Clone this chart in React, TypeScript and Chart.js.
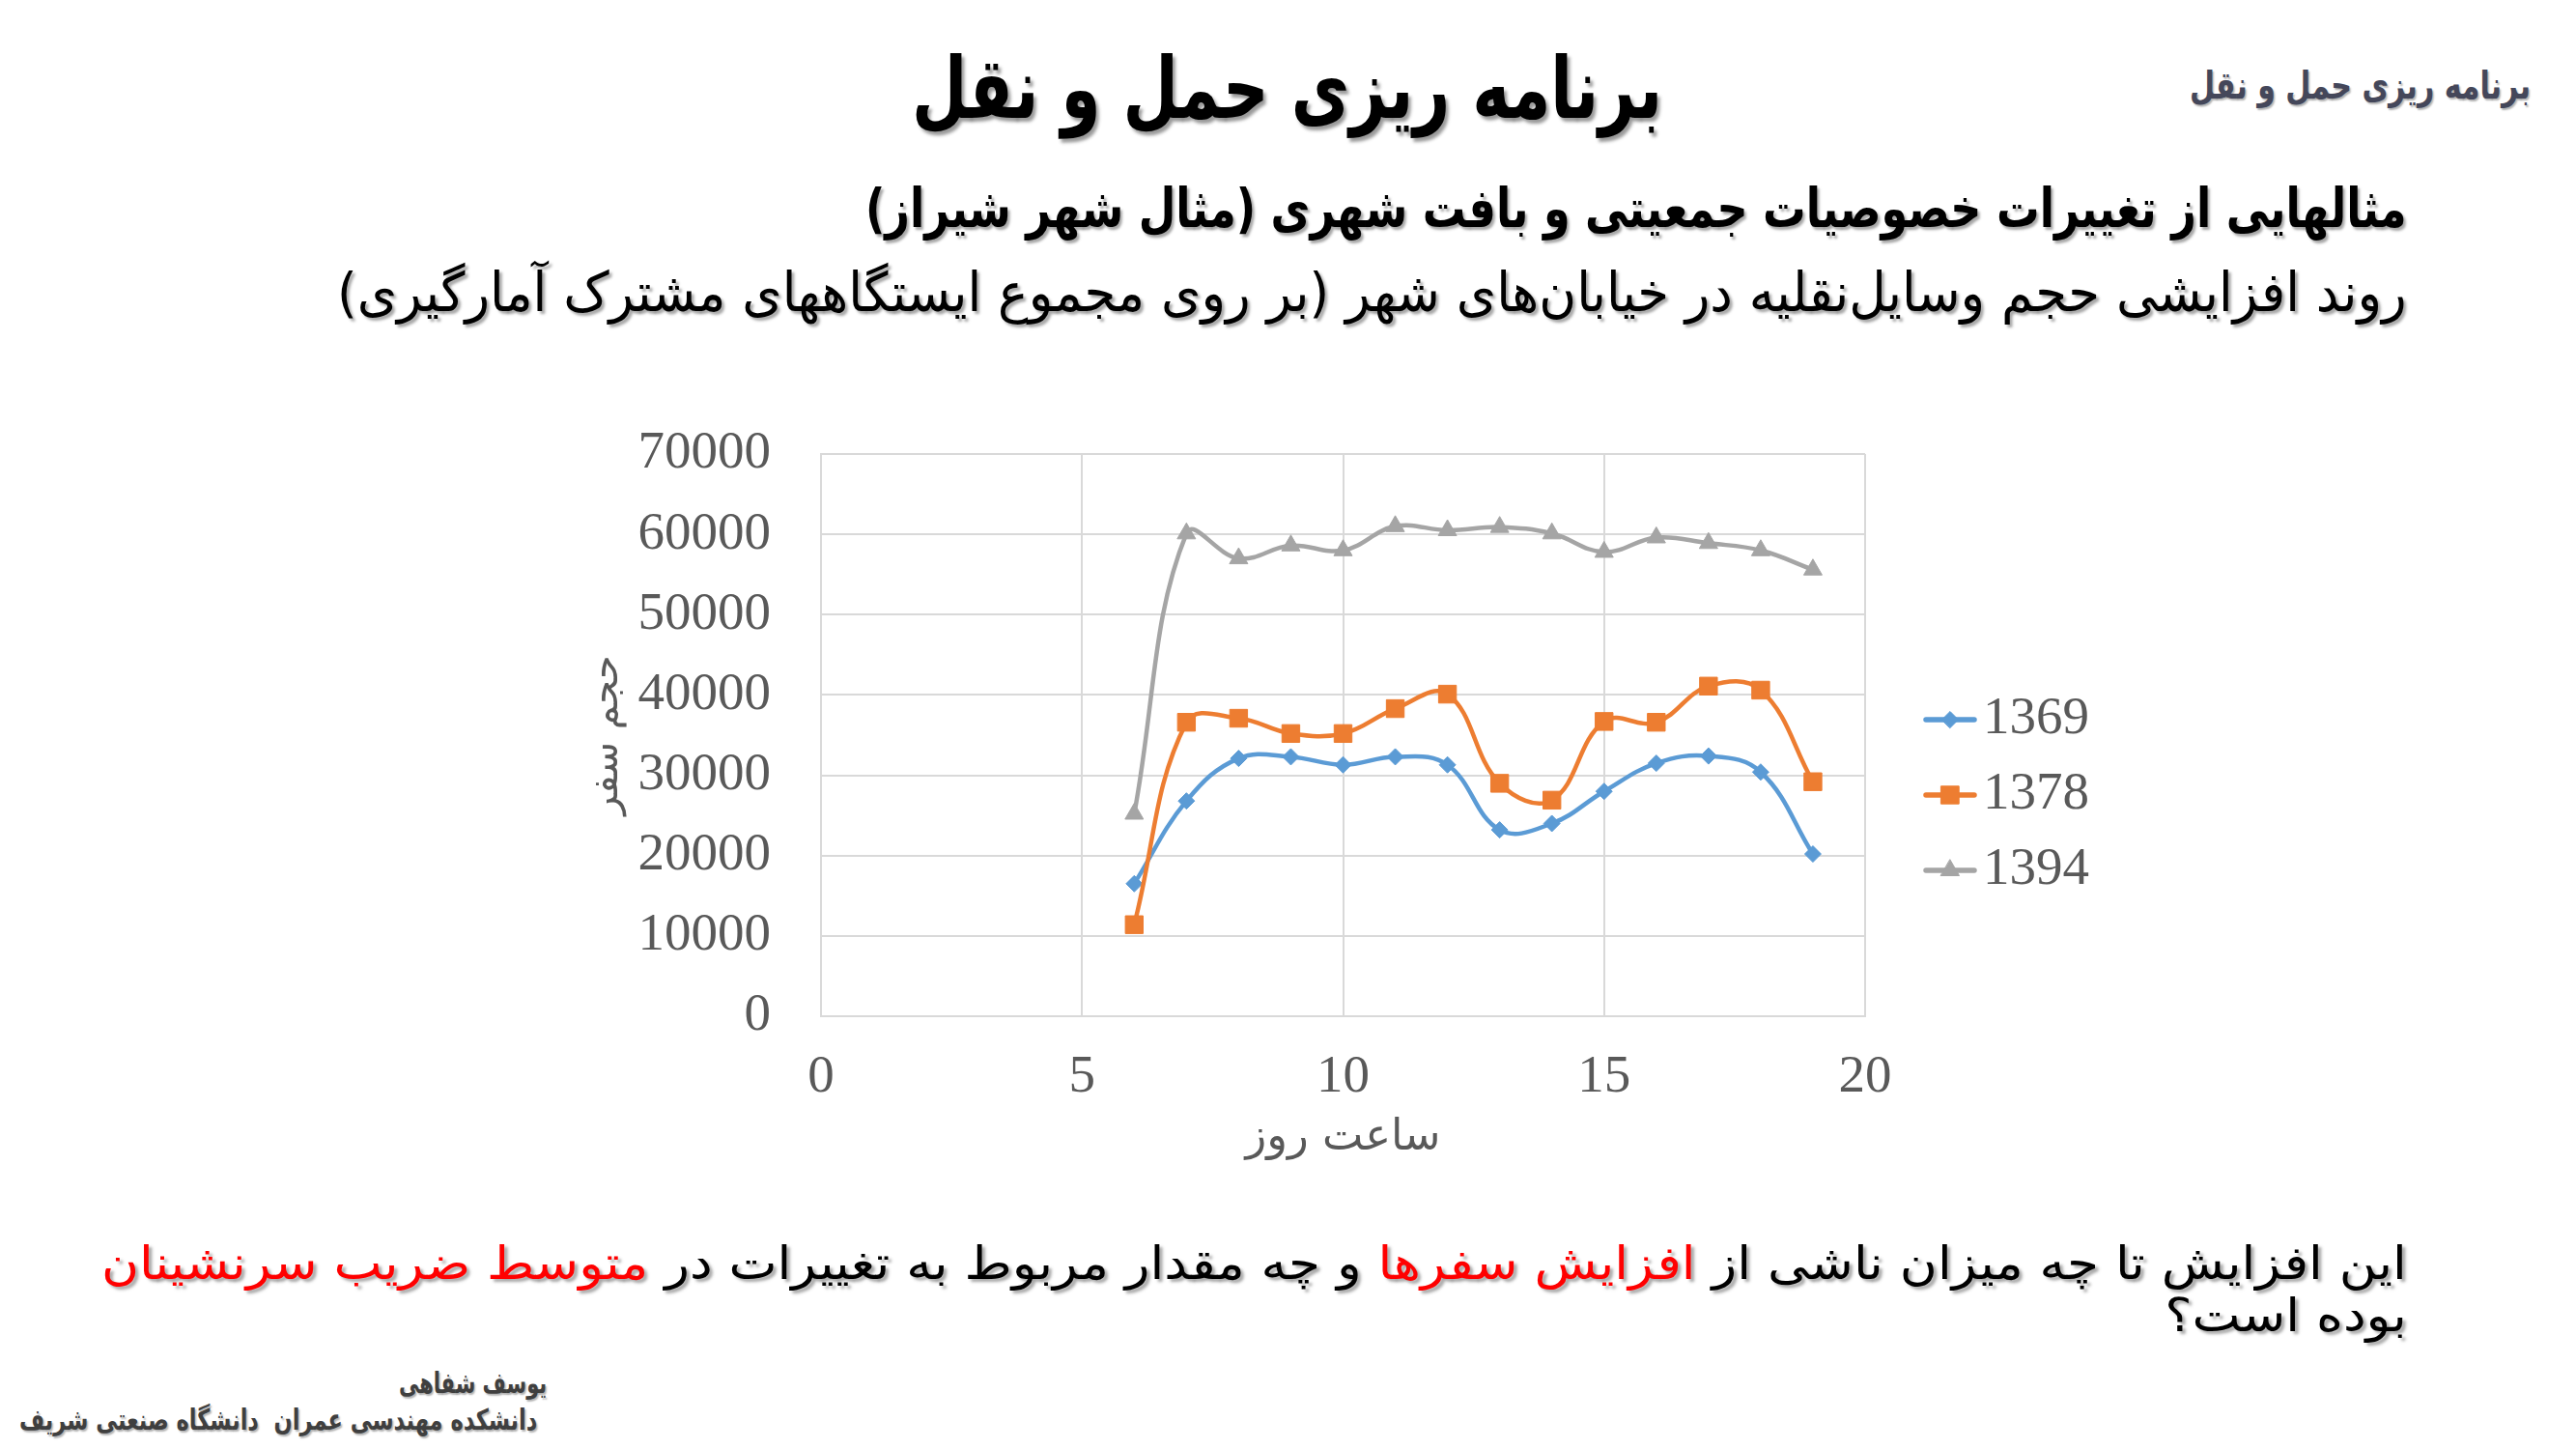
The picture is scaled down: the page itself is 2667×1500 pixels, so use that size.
import React, { useEffect, useLayoutEffect, useRef, useState } from 'react';
import { Chart, registerables } from 'chart.js';
import { drawPoint } from 'chart.js/helpers';

Chart.register(...registerables);

// ---------- data ----------
const hours = [6, 7, 8, 9, 10, 11, 12, 13, 14, 15, 16, 17, 18, 19];
const seriesNames = ['1369', '1378', '1394'];
const values1369 = [16500, 26800, 32100, 32300, 31300, 32300, 31300, 23200, 24000, 28000, 31500, 32400, 30400, 20200];
const values1378 = [11400, 36600, 37100, 35200, 35200, 38300, 40100, 29000, 26900, 36700, 36600, 41100, 40600, 29200];
const values1394 = [25200, 60100, 57000, 58600, 58000, 61000, 60500, 60900, 60100, 57800, 59600, 58900, 58000, 55600];
const xTickStep = 5;
const yTickStep = 10000;
const xRange = [0, 20];
const yRange = [0, 70000];
const xAxisTitle = 'ساعت روز';
const yAxisTitle = 'حجم سفر';

const seriesValues = [values1369, values1378, values1394];
const seriesColors = ['#5B9BD5', '#ED7D31', '#A5A5A5'];
const seriesPointStyles = ['rectRot', 'rect', 'triangle'];
const seriesPointRadii = [8.5, 13, 11];

const AXIS_GRAY = '#595959';
const GRID = '#d9d9d9';
const SERIF = "'Liberation Serif', 'Times New Roman', serif";
const PERSIAN = "'DejaVu Sans', sans-serif";

function makeLegendIcon(color: string, style: string, radius: number) {
  const c = document.createElement('canvas');
  c.width = 56;
  c.height = 30;
  const g = c.getContext('2d')!;
  g.strokeStyle = color;
  g.lineWidth = 5.5;
  g.lineCap = 'round';
  g.beginPath();
  g.moveTo(3, 15);
  g.lineTo(53, 15);
  g.stroke();
  g.fillStyle = color;
  g.lineWidth = 1;
  drawPoint(g, { pointStyle: style, radius, borderWidth: 1, rotation: 0 } as any, 28, 15);
  return c;
}

function TrafficChart() {
  const ref = useRef<HTMLCanvasElement>(null);
  useEffect(() => {
    const canvas = ref.current!;
    const icons = seriesNames.map((_, i) =>
      makeLegendIcon(seriesColors[i], seriesPointStyles[i], seriesPointRadii[i])
    );
    const datasets = seriesNames.map((name, i) => ({
      label: name,
      data: hours.map((h, j) => ({ x: h, y: seriesValues[i][j] })),
      borderColor: seriesColors[i],
      backgroundColor: seriesColors[i],
      pointBackgroundColor: seriesColors[i],
      pointBorderColor: seriesColors[i],
      pointBorderWidth: 1,
      pointStyle: seriesPointStyles[i] as any,
      pointRadius: seriesPointRadii[i],
      borderWidth: 4.5,
      borderCapStyle: 'round' as const,
      tension: 0.4,
      order: seriesNames.length - 1 - i,
    }));
    const tickFont = { family: SERIF, size: 55 };
    const chart = new Chart(canvas, {
      type: 'line',
      data: { datasets },
      options: {
        responsive: false,
        animation: false,
        devicePixelRatio: 1,
        layout: { padding: 0 },
        plugins: {
          tooltip: { enabled: false },
          legend: {
            position: 'right',
            align: 'center',
            labels: {
              font: { family: SERIF, size: 55 },
              color: AXIS_GRAY,
              usePointStyle: true,
              pointStyleWidth: 13,
              boxHeight: 22,
              padding: 23,
              sort: (a: any, b: any) => a.datasetIndex - b.datasetIndex,
              generateLabels: (ch: any) => {
                const items = Chart.defaults.plugins.legend.labels.generateLabels(ch);
                return items.map((it: any) => ({ ...it, pointStyle: icons[it.datasetIndex], lineWidth: 0 }));
              },
            },
          },
        },
        scales: {
          x: {
            type: 'linear',
            min: xRange[0],
            max: xRange[1],
            ticks: {
              stepSize: xTickStep,
              font: tickFont,
              color: AXIS_GRAY,
              padding: 31,
              maxRotation: 0,
              callback: (v: any) => String(v),
            },
            grid: { color: GRID, lineWidth: 2, drawTicks: false, tickLength: 0 },
            border: { color: GRID, width: 2 },
            title: {
              display: true,
              text: xAxisTitle,
              font: { family: PERSIAN, size: 45 },
              color: AXIS_GRAY,
              padding: { top: 2, bottom: 4 },
            },
            afterFit: (s: any) => {
              s.height = 157;
            },
          },
          y: {
            type: 'linear',
            min: yRange[0],
            max: yRange[1],
            ticks: {
              stepSize: yTickStep,
              font: tickFont,
              color: AXIS_GRAY,
              padding: 52,
              callback: (v: any) => String(v),
            },
            grid: { color: GRID, lineWidth: 2, drawTicks: false, tickLength: 0 },
            border: { color: GRID, width: 2 },
            title: {
              display: true,
              text: yAxisTitle,
              font: { family: PERSIAN, size: 40 },
              color: AXIS_GRAY,
              padding: { top: 45, bottom: 6 },
            },
            afterFit: (s: any) => {
              s.width = 290;
              s.paddingTop = 33;
              s.paddingBottom = 33;
            },
          },
          gap: {
            type: 'linear',
            position: 'right',
            display: true,
            grid: { display: false, drawTicks: false },
            border: { display: false },
            ticks: { display: false },
            afterFit: (s: any) => {
              s.width = 58.5;
              s.paddingTop = 0;
              s.paddingBottom = 0;
            },
          },
        },
      } as any,
    });
    return () => chart.destroy();
  }, []);
  return (
    <canvas
      ref={ref}
      width={1613}
      height={772}
      style={{ position: 'absolute', left: 560, top: 437, width: 1613, height: 772 }}
    />
  );
}

function FitText(props: { x0: number; x1: number; top: number; style: React.CSSProperties; children: any }) {
  const { x0, x1, top, style, children } = props;
  const ref = useRef<HTMLSpanElement>(null);
  const [k, setK] = useState(1);
  useLayoutEffect(() => {
    const el = ref.current;
    if (!el) return;
    const w = el.offsetWidth;
    if (w > 0) setK((x1 - x0) / w);
  }, [x0, x1]);
  return (
    <div style={{ position: 'absolute', left: x0, top, direction: 'ltr', whiteSpace: 'nowrap' }}>
      <span
        ref={ref}
        style={{
          display: 'inline-block',
          direction: 'rtl',
          whiteSpace: 'pre',
          transformOrigin: '0 0',
          transform: `scaleX(${k})`,
          fontFamily: PERSIAN,
          ...style,
        }}
      >
        {children}
      </span>
    </div>
  );
}

const shadowDark = '3px 3px 3px rgba(0,0,0,0.35)';
const shadowSmall = '2px 2px 2px rgba(0,0,0,0.3)';
const red = { color: '#FF0000' };

export default function App() {
  return (
    <div
      style={{
        position: 'absolute',
        left: 0,
        top: 0,
        width: 2667,
        height: 1500,
        background: '#ffffff',
        overflow: 'hidden',
        fontFamily: PERSIAN,
      }}
    >
      <FitText x0={944} x1={1721} top={39} style={{ fontSize: 88, lineHeight: 1.2, fontWeight: 'bold', color: '#000', textShadow: '4px 4px 4px rgba(0,0,0,0.4)' }}>
        برنامه ریزی حمل و نقل
      </FitText>
      <FitText x0={2267} x1={2620} top={64} style={{ fontSize: 40, lineHeight: 1.2, fontWeight: 'bold', color: '#44475a', textShadow: shadowSmall }}>
        برنامه ریزی حمل و نقل
      </FitText>
      <FitText x0={896} x1={2492} top={182} style={{ fontSize: 56, lineHeight: 1.2, fontWeight: 'bold', color: '#000', textShadow: shadowDark }}>
        مثالهایی از تغییرات خصوصیات جمعیتی و بافت شهری (مثال شهر شیراز)
      </FitText>
      <FitText x0={349} x1={2492} top={269} style={{ fontSize: 56, lineHeight: 1.2, color: '#000', textShadow: shadowDark }}>
        روند افزایشی حجم وسایل‌نقلیه در خیابان‌های شهر (بر روی مجموع ایستگاههای مشترک آمارگیری)
      </FitText>
      <FitText x0={105} x1={2492} top={1280} style={{ fontSize: 48, lineHeight: '54px', color: '#000', textAlign: 'right', textShadow: shadowDark }}>
        این افزایش تا چه میزان ناشی از <span style={red}>افزایش سفرها</span> و چه مقدار مربوط به تغییرات در <span style={red}>متوسط ضریب سرنشینان</span>
        {'\n'}بوده است؟
      </FitText>
      <FitText x0={413} x1={566} top={1414} style={{ fontSize: 30, lineHeight: 1.2, fontWeight: 'bold', color: '#3f3f3f', textShadow: shadowSmall }}>
        یوسف شفاهی
      </FitText>
      <FitText x0={20} x1={556} top={1452} style={{ fontSize: 30, lineHeight: 1.2, fontWeight: 'bold', color: '#3f3f3f', textShadow: shadowSmall }}>
        دانشکده مهندسی عمران  دانشگاه صنعتی شریف
      </FitText>
      <TrafficChart />
    </div>
  );
}
